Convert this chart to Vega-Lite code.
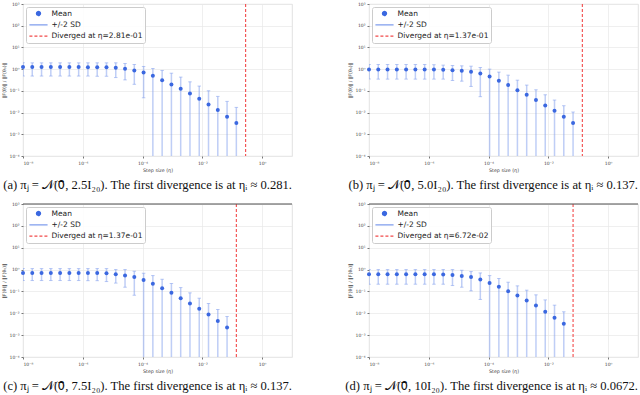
{
  "$schema": "https://vega.github.io/schema/vega-lite/v6.json",
  "background": "white",
  "padding": {"left": 0, "top": 0, "right": 0, "bottom": 0},
  "datasets": {
    "a": [
      {"x": 1e-8, "mean": 1.24, "lo": 0.48, "hi": 1.95},
      {"x": 2.043e-8, "mean": 1.24, "lo": 0.48, "hi": 1.95},
      {"x": 4.175e-8, "mean": 1.24, "lo": 0.48, "hi": 1.95},
      {"x": 8.532e-8, "mean": 1.24, "lo": 0.48, "hi": 1.95},
      {"x": 1.743e-7, "mean": 1.24, "lo": 0.48, "hi": 1.95},
      {"x": 3.562e-7, "mean": 1.24, "lo": 0.48, "hi": 1.95},
      {"x": 7.279e-7, "mean": 1.24, "lo": 0.48, "hi": 1.95},
      {"x": 1.487e-6, "mean": 1.23, "lo": 0.48, "hi": 1.95},
      {"x": 3.039e-6, "mean": 1.23, "lo": 0.47, "hi": 1.95},
      {"x": 6.210e-6, "mean": 1.22, "lo": 0.47, "hi": 1.95},
      {"x": 1.269e-5, "mean": 1.15, "lo": 0.41, "hi": 1.95},
      {"x": 2.593e-5, "mean": 1.04, "lo": 0.32, "hi": 1.82},
      {"x": 5.298e-5, "mean": 0.87, "lo": 0.20, "hi": 1.64},
      {"x": 1.083e-4, "mean": 0.70, "lo": 0.048, "hi": 1.33},
      {"x": 2.212e-4, "mean": 0.49, "lo": 1e-6, "hi": 1.07},
      {"x": 4.520e-4, "mean": 0.31, "lo": 1e-6, "hi": 0.87},
      {"x": 9.237e-4, "mean": 0.198, "lo": 1e-6, "hi": 0.65},
      {"x": 1.887e-3, "mean": 0.125, "lo": 1e-6, "hi": 0.43},
      {"x": 3.857e-3, "mean": 0.076, "lo": 1e-6, "hi": 0.26},
      {"x": 7.880e-3, "mean": 0.0434, "lo": 1e-6, "hi": 0.166},
      {"x": 1.610e-2, "mean": 0.0238, "lo": 1e-6, "hi": 0.101},
      {"x": 3.290e-2, "mean": 0.0131, "lo": 1e-6, "hi": 0.0555},
      {"x": 6.723e-2, "mean": 0.00646, "lo": 1e-6, "hi": 0.0327},
      {"x": 0.1374, "mean": 0.0033, "lo": 1e-6, "hi": 0.0173}
    ],
    "b": [
      {"x": 1e-8, "mean": 0.965, "lo": 0.347, "hi": 1.64},
      {"x": 2.043e-8, "mean": 0.965, "lo": 0.347, "hi": 1.64},
      {"x": 4.175e-8, "mean": 0.965, "lo": 0.347, "hi": 1.64},
      {"x": 8.532e-8, "mean": 0.965, "lo": 0.347, "hi": 1.64},
      {"x": 1.743e-7, "mean": 0.965, "lo": 0.347, "hi": 1.64},
      {"x": 3.562e-7, "mean": 0.965, "lo": 0.347, "hi": 1.64},
      {"x": 7.279e-7, "mean": 0.96, "lo": 0.347, "hi": 1.64},
      {"x": 1.487e-6, "mean": 0.96, "lo": 0.347, "hi": 1.60},
      {"x": 3.039e-6, "mean": 0.93, "lo": 0.347, "hi": 1.53},
      {"x": 6.210e-6, "mean": 0.90, "lo": 0.30, "hi": 1.47},
      {"x": 1.269e-5, "mean": 0.84, "lo": 0.28, "hi": 1.42},
      {"x": 2.593e-5, "mean": 0.75, "lo": 0.16, "hi": 1.37},
      {"x": 5.298e-5, "mean": 0.63, "lo": 0.054, "hi": 1.19},
      {"x": 1.083e-4, "mean": 0.46, "lo": 1e-6, "hi": 1.0},
      {"x": 2.212e-4, "mean": 0.29, "lo": 1e-6, "hi": 0.73},
      {"x": 4.520e-4, "mean": 0.184, "lo": 1e-6, "hi": 0.53},
      {"x": 9.237e-4, "mean": 0.108, "lo": 1e-6, "hi": 0.31},
      {"x": 1.887e-3, "mean": 0.066, "lo": 1e-6, "hi": 0.184},
      {"x": 3.857e-3, "mean": 0.0377, "lo": 1e-6, "hi": 0.112},
      {"x": 7.880e-3, "mean": 0.0214, "lo": 1e-6, "hi": 0.066},
      {"x": 1.610e-2, "mean": 0.0122, "lo": 1e-6, "hi": 0.0377},
      {"x": 3.290e-2, "mean": 0.00646, "lo": 1e-6, "hi": 0.0207},
      {"x": 6.723e-2, "mean": 0.0033, "lo": 1e-6, "hi": 0.0106}
    ],
    "c": [
      {"x": 1e-8, "mean": 0.705, "lo": 0.315, "hi": 1.11},
      {"x": 2.043e-8, "mean": 0.705, "lo": 0.315, "hi": 1.11},
      {"x": 4.175e-8, "mean": 0.705, "lo": 0.315, "hi": 1.11},
      {"x": 8.532e-8, "mean": 0.705, "lo": 0.315, "hi": 1.11},
      {"x": 1.743e-7, "mean": 0.705, "lo": 0.315, "hi": 1.11},
      {"x": 3.562e-7, "mean": 0.705, "lo": 0.315, "hi": 1.11},
      {"x": 7.279e-7, "mean": 0.705, "lo": 0.315, "hi": 1.11},
      {"x": 1.487e-6, "mean": 0.70, "lo": 0.31, "hi": 1.11},
      {"x": 3.039e-6, "mean": 0.70, "lo": 0.31, "hi": 1.11},
      {"x": 6.210e-6, "mean": 0.68, "lo": 0.283, "hi": 1.11},
      {"x": 1.269e-5, "mean": 0.61, "lo": 0.24, "hi": 1.0},
      {"x": 2.593e-5, "mean": 0.53, "lo": 0.156, "hi": 1.0},
      {"x": 5.298e-5, "mean": 0.46, "lo": 0.067, "hi": 0.84},
      {"x": 1.083e-4, "mean": 0.337, "lo": 1e-6, "hi": 0.68},
      {"x": 2.212e-4, "mean": 0.222, "lo": 1e-6, "hi": 0.53},
      {"x": 4.520e-4, "mean": 0.14, "lo": 1e-6, "hi": 0.36},
      {"x": 9.237e-4, "mean": 0.086, "lo": 1e-6, "hi": 0.23},
      {"x": 1.887e-3, "mean": 0.049, "lo": 1e-6, "hi": 0.15},
      {"x": 3.857e-3, "mean": 0.028, "lo": 1e-6, "hi": 0.086},
      {"x": 7.880e-3, "mean": 0.016, "lo": 1e-6, "hi": 0.049},
      {"x": 1.610e-2, "mean": 0.0088, "lo": 1e-6, "hi": 0.028},
      {"x": 3.290e-2, "mean": 0.0044, "lo": 1e-6, "hi": 0.0149},
      {"x": 6.723e-2, "mean": 0.00225, "lo": 1e-6, "hi": 0.0071}
    ],
    "d": [
      {"x": 1e-8, "mean": 0.61, "lo": 0.214, "hi": 1.0},
      {"x": 2.043e-8, "mean": 0.61, "lo": 0.214, "hi": 1.0},
      {"x": 4.175e-8, "mean": 0.61, "lo": 0.214, "hi": 1.0},
      {"x": 8.532e-8, "mean": 0.61, "lo": 0.214, "hi": 1.0},
      {"x": 1.743e-7, "mean": 0.61, "lo": 0.214, "hi": 1.0},
      {"x": 3.562e-7, "mean": 0.61, "lo": 0.214, "hi": 1.0},
      {"x": 7.279e-7, "mean": 0.61, "lo": 0.214, "hi": 1.0},
      {"x": 1.487e-6, "mean": 0.61, "lo": 0.214, "hi": 1.0},
      {"x": 3.039e-6, "mean": 0.59, "lo": 0.214, "hi": 1.0},
      {"x": 6.210e-6, "mean": 0.57, "lo": 0.186, "hi": 1.0},
      {"x": 1.269e-5, "mean": 0.51, "lo": 0.156, "hi": 0.93},
      {"x": 2.593e-5, "mean": 0.46, "lo": 0.106, "hi": 0.81},
      {"x": 5.298e-5, "mean": 0.35, "lo": 0.043, "hi": 0.70},
      {"x": 1.083e-4, "mean": 0.246, "lo": 1e-6, "hi": 0.53},
      {"x": 2.212e-4, "mean": 0.162, "lo": 1e-6, "hi": 0.39},
      {"x": 4.520e-4, "mean": 0.103, "lo": 1e-6, "hi": 0.264},
      {"x": 9.237e-4, "mean": 0.065, "lo": 1e-6, "hi": 0.18},
      {"x": 1.887e-3, "mean": 0.0384, "lo": 1e-6, "hi": 0.114},
      {"x": 3.857e-3, "mean": 0.0227, "lo": 1e-6, "hi": 0.0697},
      {"x": 7.880e-3, "mean": 0.0117, "lo": 1e-6, "hi": 0.041},
      {"x": 1.610e-2, "mean": 0.0062, "lo": 1e-6, "hi": 0.0235},
      {"x": 3.290e-2, "mean": 0.0033, "lo": 1e-6, "hi": 0.0117}
    ]
  },
  "spacing": 7,
  "vconcat": [
    {
      "hconcat": [
        {
          "width": 269, "height": 152,
          "title": {"text": "(a) πⱼ = 𝒩(0⃗, 2.5I₂₀). The first divergence is at ηᵢ ≈ 0.281."},
          "encoding": {"x": {"field": "x", "type": "quantitative", "scale": {"type": "log", "domain": [1e-8, 10], "nice": false}, "axis": {"values": [1e-8, 1e-6, 1e-4, 1e-2, 1], "title": "Step size (η)", "labelExpr": "'10' + (datum.value < 1 ? '⁻' : '') + ['⁰','¹','²','³','⁴','⁵','⁶','⁷','⁸','⁹'][abs(round(log(datum.value)/LN10))]"}}},
          "layer": [
            {"data": {"name": "a"}, "mark": {"type": "rule", "clip": true, "strokeWidth": 1.5, "opacity": 0.5},
             "encoding": {
               "y": {"field": "lo", "type": "quantitative", "scale": {"type": "log", "domain": [1e-4, 1000], "nice": false}, "axis": {"values": [1e-4, 1e-3, 1e-2, 1e-1, 1, 10, 100, 1000], "title": "‖F(θ)‖ / ‖F(θ₀)‖", "labelExpr": "'10' + (datum.value < 1 ? '⁻' : '') + ['⁰','¹','²','³','⁴','⁵','⁶','⁷','⁸','⁹'][abs(round(log(datum.value)/LN10))]"}},
               "y2": {"field": "hi"},
               "color": {"datum": "+/-2 SD", "type": "nominal", "scale": {"domain": ["Mean", "+/-2 SD", "Diverged at η=2.81e-01"], "range": ["#3b68e0", "#7f9ded", "#f24a4a"]},
                 "legend": {"orient": "top-left", "encode": {"symbols": {"update": {
                   "shape": {"signal": "datum.value === 'Mean' ? 'circle' : 'stroke'"},
                   "size": {"signal": "datum.value === 'Mean' ? 16 : 330"},
                   "fill": {"signal": "datum.value === 'Mean' ? '#3b68e0' : 'transparent'"},
                   "strokeDash": {"signal": "indexof(datum.value, 'Diverged') === 0 ? [3, 2] : [1, 0]"}}}}}}
             }},
            {"data": {"name": "a"}, "mark": {"type": "tick", "orient": "horizontal", "clip": true, "size": 3.5, "thickness": 1, "opacity": 0.55},
             "encoding": {"y": {"field": "lo", "type": "quantitative"}, "color": {"datum": "+/-2 SD", "type": "nominal"}}},
            {"data": {"name": "a"}, "mark": {"type": "tick", "orient": "horizontal", "clip": true, "size": 3.5, "thickness": 1, "opacity": 0.55},
             "encoding": {"y": {"field": "hi", "type": "quantitative"}, "color": {"datum": "+/-2 SD", "type": "nominal"}}},
            {"data": {"name": "a"}, "mark": {"type": "point", "filled": true, "size": 16, "opacity": 1},
             "encoding": {"y": {"field": "mean", "type": "quantitative"}, "color": {"datum": "Mean", "type": "nominal"}}},
            {"data": {"values": [{"x": 0.2807}]}, "mark": {"type": "rule", "strokeDash": [3, 2], "strokeWidth": 1.1},
             "encoding": {"color": {"datum": "Diverged at η=2.81e-01", "type": "nominal"}}}
          ]
        },
        {
          "width": 269, "height": 152,
          "title": {"text": "(b) πⱼ = 𝒩(0⃗, 5.0I₂₀). The first divergence is at ηᵢ ≈ 0.137."},
          "encoding": {"x": {"field": "x", "type": "quantitative", "scale": {"type": "log", "domain": [1e-8, 10], "nice": false}, "axis": {"values": [1e-8, 1e-6, 1e-4, 1e-2, 1], "title": "Step size (η)", "labelExpr": "'10' + (datum.value < 1 ? '⁻' : '') + ['⁰','¹','²','³','⁴','⁵','⁶','⁷','⁸','⁹'][abs(round(log(datum.value)/LN10))]"}}},
          "layer": [
            {"data": {"name": "b"}, "mark": {"type": "rule", "clip": true, "strokeWidth": 1.5, "opacity": 0.5},
             "encoding": {
               "y": {"field": "lo", "type": "quantitative", "scale": {"type": "log", "domain": [1e-4, 1000], "nice": false}, "axis": {"values": [1e-4, 1e-3, 1e-2, 1e-1, 1, 10, 100, 1000], "title": "‖F(θ)‖ / ‖F(θ₀)‖", "labelExpr": "'10' + (datum.value < 1 ? '⁻' : '') + ['⁰','¹','²','³','⁴','⁵','⁶','⁷','⁸','⁹'][abs(round(log(datum.value)/LN10))]"}},
               "y2": {"field": "hi"},
               "color": {"datum": "+/-2 SD", "type": "nominal", "scale": {"domain": ["Mean", "+/-2 SD", "Diverged at η=1.37e-01"], "range": ["#3b68e0", "#7f9ded", "#f24a4a"]},
                 "legend": {"orient": "top-left", "encode": {"symbols": {"update": {
                   "shape": {"signal": "datum.value === 'Mean' ? 'circle' : 'stroke'"},
                   "size": {"signal": "datum.value === 'Mean' ? 16 : 330"},
                   "fill": {"signal": "datum.value === 'Mean' ? '#3b68e0' : 'transparent'"},
                   "strokeDash": {"signal": "indexof(datum.value, 'Diverged') === 0 ? [3, 2] : [1, 0]"}}}}}}
             }},
            {"data": {"name": "b"}, "mark": {"type": "tick", "orient": "horizontal", "clip": true, "size": 3.5, "thickness": 1, "opacity": 0.55},
             "encoding": {"y": {"field": "lo", "type": "quantitative"}, "color": {"datum": "+/-2 SD", "type": "nominal"}}},
            {"data": {"name": "b"}, "mark": {"type": "tick", "orient": "horizontal", "clip": true, "size": 3.5, "thickness": 1, "opacity": 0.55},
             "encoding": {"y": {"field": "hi", "type": "quantitative"}, "color": {"datum": "+/-2 SD", "type": "nominal"}}},
            {"data": {"name": "b"}, "mark": {"type": "point", "filled": true, "size": 16, "opacity": 1},
             "encoding": {"y": {"field": "mean", "type": "quantitative"}, "color": {"datum": "Mean", "type": "nominal"}}},
            {"data": {"values": [{"x": 0.1374}]}, "mark": {"type": "rule", "strokeDash": [3, 2], "strokeWidth": 1.1},
             "encoding": {"color": {"datum": "Diverged at η=1.37e-01", "type": "nominal"}}}
          ]
        }
      ],
      "spacing": 77,
      "bounds": "flush",
      "resolve": {"scale": {"color": "independent"}, "legend": {"color": "independent"}}
    },
    {
      "hconcat": [
        {
          "width": 269, "height": 153,
          "title": {"text": "(c) πⱼ = 𝒩(0⃗, 7.5I₂₀). The first divergence is at ηᵢ ≈ 0.137."},
          "encoding": {"x": {"field": "x", "type": "quantitative", "scale": {"type": "log", "domain": [1e-8, 10], "nice": false}, "axis": {"values": [1e-8, 1e-6, 1e-4, 1e-2, 1], "title": "Step size (η)", "labelExpr": "'10' + (datum.value < 1 ? '⁻' : '') + ['⁰','¹','²','³','⁴','⁵','⁶','⁷','⁸','⁹'][abs(round(log(datum.value)/LN10))]"}}},
          "layer": [
            {"data": {"name": "c"}, "mark": {"type": "rule", "clip": true, "strokeWidth": 1.5, "opacity": 0.5},
             "encoding": {
               "y": {"field": "lo", "type": "quantitative", "scale": {"type": "log", "domain": [1e-4, 1000], "nice": false}, "axis": {"values": [1e-4, 1e-3, 1e-2, 1e-1, 1, 10, 100, 1000], "title": "‖F(θ)‖ / ‖F(θ₀)‖", "labelExpr": "'10' + (datum.value < 1 ? '⁻' : '') + ['⁰','¹','²','³','⁴','⁵','⁶','⁷','⁸','⁹'][abs(round(log(datum.value)/LN10))]"}},
               "y2": {"field": "hi"},
               "color": {"datum": "+/-2 SD", "type": "nominal", "scale": {"domain": ["Mean", "+/-2 SD", "Diverged at η=1.37e-01"], "range": ["#3b68e0", "#7f9ded", "#f24a4a"]},
                 "legend": {"orient": "top-left", "encode": {"symbols": {"update": {
                   "shape": {"signal": "datum.value === 'Mean' ? 'circle' : 'stroke'"},
                   "size": {"signal": "datum.value === 'Mean' ? 16 : 330"},
                   "fill": {"signal": "datum.value === 'Mean' ? '#3b68e0' : 'transparent'"},
                   "strokeDash": {"signal": "indexof(datum.value, 'Diverged') === 0 ? [3, 2] : [1, 0]"}}}}}}
             }},
            {"data": {"name": "c"}, "mark": {"type": "tick", "orient": "horizontal", "clip": true, "size": 3.5, "thickness": 1, "opacity": 0.55},
             "encoding": {"y": {"field": "lo", "type": "quantitative"}, "color": {"datum": "+/-2 SD", "type": "nominal"}}},
            {"data": {"name": "c"}, "mark": {"type": "tick", "orient": "horizontal", "clip": true, "size": 3.5, "thickness": 1, "opacity": 0.55},
             "encoding": {"y": {"field": "hi", "type": "quantitative"}, "color": {"datum": "+/-2 SD", "type": "nominal"}}},
            {"data": {"name": "c"}, "mark": {"type": "point", "filled": true, "size": 16, "opacity": 1},
             "encoding": {"y": {"field": "mean", "type": "quantitative"}, "color": {"datum": "Mean", "type": "nominal"}}},
            {"data": {"values": [{"x": 0.1374}]}, "mark": {"type": "rule", "strokeDash": [3, 2], "strokeWidth": 1.1},
             "encoding": {"color": {"datum": "Diverged at η=1.37e-01", "type": "nominal"}}},
            {"data": {"values": [{"top": 1000}]}, "mark": {"type": "rule", "color": "#555555", "strokeWidth": 1.2},
             "encoding": {"x": null, "y": {"field": "top", "type": "quantitative"}}}
          ]
        },
        {
          "width": 269, "height": 153,
          "title": {"text": "(d) πⱼ = 𝒩(0⃗, 10I₂₀). The first divergence is at ηᵢ ≈ 0.0672."},
          "encoding": {"x": {"field": "x", "type": "quantitative", "scale": {"type": "log", "domain": [1e-8, 10], "nice": false}, "axis": {"values": [1e-8, 1e-6, 1e-4, 1e-2, 1], "title": "Step size (η)", "labelExpr": "'10' + (datum.value < 1 ? '⁻' : '') + ['⁰','¹','²','³','⁴','⁵','⁶','⁷','⁸','⁹'][abs(round(log(datum.value)/LN10))]"}}},
          "layer": [
            {"data": {"name": "d"}, "mark": {"type": "rule", "clip": true, "strokeWidth": 1.5, "opacity": 0.5},
             "encoding": {
               "y": {"field": "lo", "type": "quantitative", "scale": {"type": "log", "domain": [1e-4, 1000], "nice": false}, "axis": {"values": [1e-4, 1e-3, 1e-2, 1e-1, 1, 10, 100, 1000], "title": "‖F(θ)‖ / ‖F(θ₀)‖", "labelExpr": "'10' + (datum.value < 1 ? '⁻' : '') + ['⁰','¹','²','³','⁴','⁵','⁶','⁷','⁸','⁹'][abs(round(log(datum.value)/LN10))]"}},
               "y2": {"field": "hi"},
               "color": {"datum": "+/-2 SD", "type": "nominal", "scale": {"domain": ["Mean", "+/-2 SD", "Diverged at η=6.72e-02"], "range": ["#3b68e0", "#7f9ded", "#f24a4a"]},
                 "legend": {"orient": "top-left", "encode": {"symbols": {"update": {
                   "shape": {"signal": "datum.value === 'Mean' ? 'circle' : 'stroke'"},
                   "size": {"signal": "datum.value === 'Mean' ? 16 : 330"},
                   "fill": {"signal": "datum.value === 'Mean' ? '#3b68e0' : 'transparent'"},
                   "strokeDash": {"signal": "indexof(datum.value, 'Diverged') === 0 ? [3, 2] : [1, 0]"}}}}}}
             }},
            {"data": {"name": "d"}, "mark": {"type": "tick", "orient": "horizontal", "clip": true, "size": 3.5, "thickness": 1, "opacity": 0.55},
             "encoding": {"y": {"field": "lo", "type": "quantitative"}, "color": {"datum": "+/-2 SD", "type": "nominal"}}},
            {"data": {"name": "d"}, "mark": {"type": "tick", "orient": "horizontal", "clip": true, "size": 3.5, "thickness": 1, "opacity": 0.55},
             "encoding": {"y": {"field": "hi", "type": "quantitative"}, "color": {"datum": "+/-2 SD", "type": "nominal"}}},
            {"data": {"name": "d"}, "mark": {"type": "point", "filled": true, "size": 16, "opacity": 1},
             "encoding": {"y": {"field": "mean", "type": "quantitative"}, "color": {"datum": "Mean", "type": "nominal"}}},
            {"data": {"values": [{"x": 0.06723}]}, "mark": {"type": "rule", "strokeDash": [3, 2], "strokeWidth": 1.1},
             "encoding": {"color": {"datum": "Diverged at η=6.72e-02", "type": "nominal"}}},
            {"data": {"values": [{"top": 1000}]}, "mark": {"type": "rule", "color": "#555555", "strokeWidth": 1.2},
             "encoding": {"x": null, "y": {"field": "top", "type": "quantitative"}}}
          ]
        }
      ],
      "spacing": 77,
      "bounds": "flush",
      "resolve": {"scale": {"color": "independent"}, "legend": {"color": "independent"}}
    }
  ],
  "resolve": {"scale": {"color": "independent"}, "legend": {"color": "independent"}},
  "config": {
    "view": {"stroke": "#d9d9d9", "strokeWidth": 0.8},
    "axis": {"labelFontSize": 4.5, "titleFontSize": 4.8, "labelColor": "#444444", "titleColor": "#444444", "labelFont": "DejaVu Sans", "titleFont": "DejaVu Sans", "titleFontWeight": "normal", "gridColor": "#e8e8e8", "gridWidth": 0.7, "domain": false, "tickColor": "#777777", "tickSize": 2, "labelPadding": 2, "titlePadding": 3},
    "title": {"orient": "bottom", "anchor": "end", "frame": "group", "font": "Liberation Serif", "fontSize": 12.6, "fontWeight": "normal", "color": "#111111", "offset": 7},
    "legend": {
      "title": null, "offset": 3, "labelFont": "DejaVu Sans", "labelFontSize": 7.5, "labelColor": "#222222",
      "symbolSize": 330, "symbolStrokeWidth": 1.3, "rowPadding": 3.3, "padding": 2.5, "clipHeight": 8, "labelOffset": 3,
      "fillColor": "rgba(255,255,255,0.85)", "strokeColor": "#cccccc", "cornerRadius": 2,
      "symbolType": "stroke",
      "symbolOpacity": 1
    },
    "point": {"opacity": 1}
  }
}
